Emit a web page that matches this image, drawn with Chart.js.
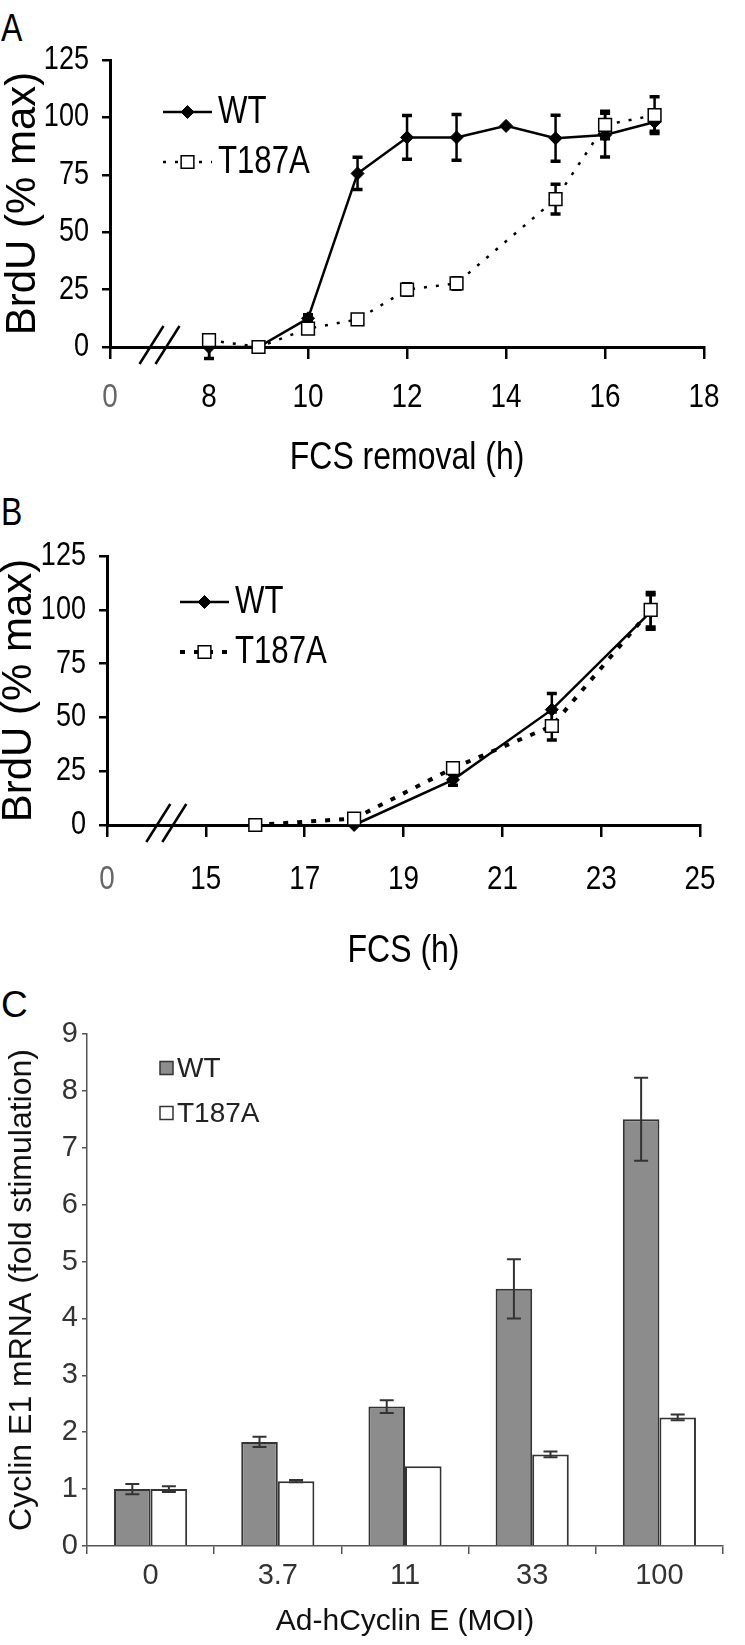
<!DOCTYPE html>
<html>
<head>
<meta charset="utf-8">
<title>BrdU incorporation and Cyclin E1 mRNA</title>
<script src="https://cdn.jsdelivr.net/npm/chart.js@4.4.1/dist/chart.umd.min.js"></script>
<style>
  html, body { margin: 0; padding: 0; background: #fff; }
  #page { position: relative; width: 745px; height: 1645px; overflow: hidden; background: #fff; }
  canvas { position: absolute; left: 0; }
  .letter { position: absolute; left: 1px; line-height: 1; color: #000; font-family: 'Liberation Sans', Arial, sans-serif; }
  .narrow { transform: scaleX(0.82); transform-origin: left top; }
</style>
</head>
<body>
<div id="page">
  <div class="letter narrow" style="top:8px;font-size:39px;">A</div>
  <div class="letter narrow" style="top:492px;font-size:39px;">B</div>
  <div class="letter" style="top:986px;font-size:37px;">C</div>
  <canvas id="chartA" width="745" height="490" style="top:0"></canvas>
  <canvas id="chartB" width="745" height="490" style="top:490px"></canvas>
  <canvas id="chartC" width="745" height="665" style="top:980px"></canvas>
</div>
<script>
// ---- panel A: FCS removal ----
var hoursA = [8, 9, 10, 11, 12, 13, 14, 15, 16, 17];
var wtA = [0, 0, 12.5, 75.6, 91.3, 91.3, 96.3, 90.9, 92.3, 98];
var wtErrA = [5, 0, 1.5, 7, 9.5, 10, 0, 10, 9.5, 4];
var mutA = [3, 0, 8, 12, 25, 27.7, null, 64.4, 96.7, 101];
var mutErrA = [0, 0, 1, 1, 2.5, 2.5, 0, 6.5, 6, 8];
var tickValsA = [6, 8, 10, 12, 14, 16, 18];
var tickTextA = ['0', '8', '10', '12', '14', '16', '18'];

// ---- panel B: FCS ----
var hoursB = [16, 18, 20, 22, 24];
var wtB = [null, 0, 21, 53.6, 99];
var wtErrB = [0, 0, 2.5, 7.5, 8];
var mutB = [0, 3, 26.4, 46, 100];
var mutErrB = [0, 0, 1, 6.5, 8];
var tickValsB = [13, 15, 17, 19, 21, 23, 25];
var tickTextB = ['0', '15', '17', '19', '21', '23', '25'];

var yTicksAB = [0, 25, 50, 75, 100, 125];

// ---- panel C: cyclin E1 mRNA ----
var moi = ['0', '3.7', '11', '33', '100'];
var wtC = [1.0, 1.83, 2.45, 4.52, 7.5];
var wtErrC = [0.09, 0.09, 0.11, 0.52, 0.73];
var mutC = [1.0, 1.14, 1.40, 1.61, 2.26];
var mutErrC = [0.05, 0.02, 0, 0.05, 0.05];

// no narrow face installed: 'Arial Narrow' falls back to Liberation Sans and gets squeezed below
var NARROW = "'Arial Narrow', 'Liberation Sans', Arial, sans-serif";
var SANS = "'Liberation Sans', Arial, sans-serif";

Chart.defaults.animation = false;
Chart.defaults.color = '#000';

// squeeze text set in the narrow font, like Arial Narrow
function narrowCanvas(id) {
    var canvas = document.getElementById(id);
    var ctx = canvas.getContext('2d');
    var fill = ctx.fillText;
    ctx.fillText = function(text, x, y, maxWidth) {
        if (this.font.indexOf('Arial Narrow') === -1) {
            return fill.apply(this, arguments);
        }
        this.save();
        this.translate(x, y);
        this.scale(0.82, 1);
        fill.call(this, text, 0, 0);
        this.restore();
    };
    return canvas;
}

function pts(xs, ys) {
    return xs.map(function(x, i) { return {x: x, y: ys[i]}; });
}

// error bars, drawn from the data through the y scale
var errorBars = {
    id: 'errorBars',
    draw: function(chart, opts) {
        var ctx = chart.ctx;
        var yScale = chart.scales.y;
        ctx.save();
        ctx.strokeStyle = opts.color;
        ctx.lineCap = 'butt';
        opts.errors.forEach(function(errs, d) {
            var meta = chart.getDatasetMeta(d);
            var data = chart.data.datasets[d].data;
            meta.data.forEach(function(el, i) {
                var v = data[i];
                if (v !== null && typeof v === 'object') v = v.y;
                var e = errs[i];
                if (v === null || v === undefined || !e) return;
                var x = el.x;
                var yt = yScale.getPixelForValue(v + e);
                var yb = yScale.getPixelForValue(v - e);
                ctx.lineWidth = opts.width;
                ctx.beginPath();
                ctx.moveTo(x, yt); ctx.lineTo(x, yb);
                ctx.stroke();
                ctx.lineWidth = opts.capWidth;
                ctx.beginPath();
                ctx.moveTo(x - opts.cap, yt); ctx.lineTo(x + opts.cap, yt);
                ctx.moveTo(x - opts.cap, yb); ctx.lineTo(x + opts.cap, yb);
                ctx.stroke();
            });
        });
        ctx.restore();
    },
    beforeDatasetsDraw: function(chart, args, opts) { if (opts.under) this.draw(chart, opts); },
    afterDatasetsDraw: function(chart, args, opts) { if (!opts.under) this.draw(chart, opts); }
};

// "//" break on the x axis
var axisBreak = {
    id: 'axisBreak',
    afterDraw: function(chart, args, opts) {
        if (opts.at === undefined) return;
        var ctx = chart.ctx;
        var x = chart.scales.x.getPixelForValue(opts.at);
        var y = chart.chartArea.bottom;
        ctx.save();
        ctx.strokeStyle = '#000';
        ctx.lineWidth = 2.5;
        [-8, 8].forEach(function(dx) {
            ctx.beginPath();
            ctx.moveTo(x + dx - 12, y + 17);
            ctx.lineTo(x + dx + 12, y - 21);
            ctx.stroke();
        });
        ctx.restore();
    }
};

// legend: line sample with marker, or a filled box
var sideLegend = {
    id: 'sideLegend',
    afterDraw: function(chart, args, opts) {
        if (!opts.x) return;
        var ctx = chart.ctx;
        ctx.save();
        chart.data.datasets.forEach(function(ds, i) {
            var y = opts.y + i * opts.rowGap;
            var tx;
            if (opts.box) {
                ctx.fillStyle = ds.backgroundColor;
                ctx.strokeStyle = ds.borderColor;
                ctx.lineWidth = 1.5;
                ctx.fillRect(opts.x, y - opts.box / 2, opts.box, opts.box);
                ctx.strokeRect(opts.x, y - opts.box / 2, opts.box, opts.box);
                tx = opts.x + opts.box + 4;
            } else {
                var x1 = opts.x + opts.lineLen;
                ctx.strokeStyle = ds.borderColor;
                ctx.lineWidth = ds.borderWidth;
                ctx.setLineDash(ds.borderDash || []);
                ctx.beginPath();
                ctx.moveTo(opts.x, y); ctx.lineTo(x1, y);
                ctx.stroke();
                ctx.setLineDash([]);
                ctx.fillStyle = ds.pointBackgroundColor;
                ctx.strokeStyle = ds.pointBorderColor;
                ctx.lineWidth = ds.pointBorderWidth;
                Chart.helpers.drawPoint(ctx, {
                    pointStyle: ds.pointStyle, radius: ds.pointRadius,
                    borderWidth: ds.pointBorderWidth, rotation: 0
                }, (opts.x + x1) / 2, y);
                tx = x1 + 6;
            }
            ctx.fillStyle = opts.color || '#000';
            ctx.font = opts.font;
            ctx.textBaseline = 'middle';
            ctx.textAlign = 'left';
            ctx.fillText(ds.label, tx, y + 1);
        });
        ctx.restore();
    }
};

function brduChart(id, cfg) {
    var wt = {
        label: 'WT',
        data: pts(cfg.hours, cfg.wt),
        order: 1,
        borderColor: '#000',
        borderWidth: 2.5,
        pointStyle: 'rectRot',
        pointRadius: 6.5,
        pointBackgroundColor: '#000',
        pointBorderColor: '#000',
        pointBorderWidth: 1,
        spanGaps: false,
        clip: false
    };
    var mut = {
        label: 'T187A',
        data: pts(cfg.hours, cfg.mut),
        order: 0,
        borderColor: '#000',
        borderWidth: cfg.dashWidth,
        borderDash: cfg.dash,
        pointStyle: 'rect',
        pointRadius: 9,
        pointBackgroundColor: '#fff',
        pointBorderColor: '#000',
        pointBorderWidth: 1.5,
        spanGaps: true,
        clip: false
    };
    return new Chart(narrowCanvas(id), {
        type: 'line',
        data: { datasets: [wt, mut] },
        options: {
            responsive: false,
            devicePixelRatio: 1,
            layout: { padding: { left: 0, right: cfg.padRight, top: cfg.padTop, bottom: 0 } },
            plugins: {
                legend: { display: false },
                tooltip: { enabled: false },
                errorBars: { errors: [cfg.wtErr, cfg.mutErr], under: true, color: '#000', width: 2.5, capWidth: 3.5, cap: 5 },
                axisBreak: { at: cfg.breakAt },
                sideLegend: { x: cfg.legX, y: cfg.legY, rowGap: 50, lineLen: 49, font: '38px ' + NARROW }
            },
            scales: {
                x: {
                    type: 'linear',
                    min: cfg.tickVals[0],
                    max: cfg.tickVals[cfg.tickVals.length - 1],
                    afterBuildTicks: function(s) { s.ticks = cfg.tickVals.map(function(v) { return {value: v}; }); },
                    afterFit: function(s) { s.height = cfg.xHeight; },
                    ticks: {
                        autoSkip: false, maxRotation: 0,
                        padding: cfg.xTickPad,
                        font: { family: NARROW, size: 34, lineHeight: 1 },
                        color: function(c) { return c.index === 0 ? '#666' : '#000'; },
                        callback: function(v, i) { return cfg.tickText[i]; }
                    },
                    grid: { drawOnChartArea: false, drawTicks: true, tickLength: 12, color: '#000', lineWidth: 2.5 },
                    border: { color: '#000', width: 3 },
                    title: {
                        display: true, text: cfg.xTitle, color: '#000',
                        font: { family: NARROW, size: 39, lineHeight: 1 },
                        padding: { top: 0, bottom: cfg.xTitlePad }
                    }
                },
                y: {
                    min: 0, max: 125,
                    afterBuildTicks: function(s) { s.ticks = yTicksAB.map(function(v) { return {value: v}; }); },
                    afterFit: function(s) { s.width = cfg.yWidth; },
                    ticks: { padding: 13, font: { family: NARROW, size: 33, lineHeight: 1 }, color: '#000' },
                    grid: { drawOnChartArea: false, drawTicks: true, tickLength: 8, color: '#000', lineWidth: 2.5 },
                    border: { color: '#000', width: 3 },
                    title: {
                        display: true, text: 'BrdU (% max)', color: '#000',
                        font: { family: SANS, size: 42, lineHeight: 1 },
                        padding: { top: cfg.yTitlePad, bottom: 0 }
                    }
                }
            }
        },
        plugins: [errorBars, axisBreak, sideLegend]
    });
}

brduChart('chartA', {
    hours: hoursA, wt: wtA, wtErr: wtErrA, mut: mutA, mutErr: mutErrA,
    tickVals: tickValsA, tickText: tickTextA, breakAt: 7,
    dash: [3, 9], dashWidth: 2.5,
    xTitle: 'FCS removal (h)',
    padTop: 60, padRight: 18, yWidth: 110, xHeight: 143,
    xTickPad: 22, xTitlePad: 12, yTitlePad: 2,
    legX: 163, legY: 112
});

brduChart('chartB', {
    hours: hoursB, wt: wtB, wtErr: wtErrB, mut: mutB, mutErr: mutErrB,
    tickVals: tickValsB, tickText: tickTextB, breakAt: 14.2,
    dash: [5, 9], dashWidth: 4,
    xTitle: 'FCS (h)',
    padTop: 66, padRight: 21, yWidth: 107, xHeight: 155,
    xTickPad: 26, xTitlePad: 9, yTitlePad: -2,
    legX: 180, legY: 112
});

new Chart(document.getElementById('chartC'), {
    type: 'bar',
    data: {
        labels: moi,
        datasets: [{
            label: 'WT',
            data: wtC,
            backgroundColor: '#8c8c8c',
            borderColor: '#333',
            borderWidth: 2
        }, {
            label: 'T187A',
            data: mutC,
            backgroundColor: '#fff',
            borderColor: '#333',
            borderWidth: 2
        }]
    },
    options: {
        responsive: false,
        devicePixelRatio: 1,
        categoryPercentage: 0.575,
        barPercentage: 1.0,
        layout: { padding: { left: 0, right: 22, top: 54, bottom: 0 } },
        plugins: {
            legend: { display: false },
            tooltip: { enabled: false },
            errorBars: { errors: [wtErrC, mutErrC], under: false, color: '#333', width: 2, capWidth: 2, cap: 7 },
            sideLegend: { x: 160, y: 88, rowGap: 45, box: 13, font: '28px ' + SANS, color: '#222' }
        },
        scales: {
            x: {
                afterFit: function(s) { s.height = 99; },
                ticks: { padding: 7, font: { family: SANS, size: 29, lineHeight: 1 }, color: '#333' },
                grid: { drawOnChartArea: false, drawTicks: true, tickLength: 8, color: '#555', lineWidth: 1.5 },
                border: { color: '#555', width: 1.5 },
                title: {
                    display: true, text: 'Ad-hCyclin E (MOI)', color: '#111',
                    font: { family: SANS, size: 30, lineHeight: 1 },
                    padding: { top: 0, bottom: 8 }
                }
            },
            y: {
                min: 0, max: 9,
                ticks: { stepSize: 1, padding: 4, font: { family: SANS, size: 29, lineHeight: 1 }, color: '#333' },
                afterFit: function(s) { s.width = 87; },
                grid: { drawOnChartArea: false, drawTicks: true, tickLength: 5, color: '#555', lineWidth: 1.5 },
                border: { color: '#555', width: 1.5 },
                title: {
                    display: true, text: 'Cyclin E1 mRNA (fold stimulation)', color: '#111',
                    font: { family: SANS, size: 32, lineHeight: 1 },
                    padding: { top: 6, bottom: 0 }
                }
            }
        }
    },
    plugins: [errorBars, sideLegend]
});
</script>
</body>
</html>
